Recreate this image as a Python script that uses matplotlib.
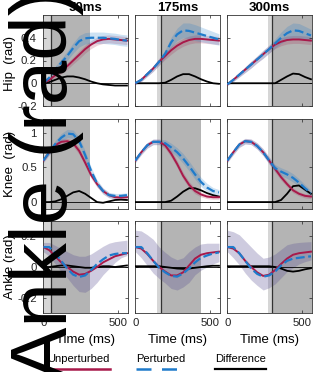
import numpy as np
import matplotlib
matplotlib.use('Agg')
import matplotlib.pyplot as plt
from matplotlib.lines import Line2D

plt.rcParams['font.family'] = ['Liberation Sans', 'DejaVu Sans']
plt.rcParams['axes.unicode_minus'] = False

# ---------------- data ----------------
time_ms = [0, 40, 80, 120, 160, 200, 240, 280, 320, 360, 400, 440, 480, 520, 560]
perturb_ms = [50, 175, 300]
pre_window_start_ms = [0, 145, 270]
post_window_end_ms = [310, 438, 600]
titles = ['50ms', '175ms', '300ms']
joint_labels = ['Hip  (rad)', 'Knee  (rad)', 'Ankle (rad)']
legend_labels = ['Unperturbed', 'Perturbed', 'Difference']

# Hip (one list per perturbation time)
hip_unpert = [
    [0.0, 0.03, 0.07, 0.11, 0.15, 0.2, 0.25, 0.3, 0.34, 0.37, 0.385, 0.39, 0.385, 0.38, 0.375],
    [0.0, 0.03, 0.08, 0.13, 0.19, 0.24, 0.29, 0.33, 0.36, 0.38, 0.39, 0.39, 0.385, 0.38, 0.375],
    [-0.01, 0.03, 0.075, 0.12, 0.165, 0.21, 0.255, 0.3, 0.34, 0.365, 0.38, 0.385, 0.385, 0.38, 0.375],
]
hip_pert = [
    [0.0, 0.05, 0.12, 0.18, 0.24, 0.31, 0.37, 0.395, 0.4, 0.4, 0.4, 0.395, 0.39, 0.38, 0.375],
    [0.0, 0.03, 0.08, 0.13, 0.19, 0.26, 0.36, 0.43, 0.465, 0.46, 0.445, 0.43, 0.415, 0.4, 0.385],
    [-0.01, 0.03, 0.075, 0.12, 0.165, 0.21, 0.255, 0.3, 0.35, 0.4, 0.44, 0.465, 0.46, 0.44, 0.42],
]
hip_diff = [
    [0.0, 0.01, 0.03, 0.05, 0.06, 0.06, 0.05, 0.035, 0.015, 0.0, -0.01, -0.015, -0.02, -0.02, -0.02],
    [0.0, 0.0, 0.0, 0.0, 0.0, 0.005, 0.03, 0.06, 0.08, 0.08, 0.06, 0.035, 0.015, 0.0, -0.005],
    [0.0, 0.0, 0.0, 0.0, 0.0, 0.0, 0.0, 0.0, 0.0, 0.03, 0.06, 0.085, 0.08, 0.055, 0.035],
]
hip_unpert_sd = [0.01, 0.015, 0.02, 0.025, 0.03, 0.03, 0.035, 0.035, 0.035, 0.035, 0.035, 0.035, 0.035, 0.035, 0.035]
hip_pert_sd = [
    [0.01, 0.02, 0.03, 0.035, 0.04, 0.045, 0.05, 0.05, 0.05, 0.05, 0.05, 0.05, 0.05, 0.05, 0.05],
    [0.01, 0.015, 0.02, 0.025, 0.03, 0.035, 0.045, 0.055, 0.065, 0.07, 0.07, 0.065, 0.06, 0.055, 0.05],
    [0.01, 0.015, 0.02, 0.025, 0.03, 0.03, 0.035, 0.035, 0.04, 0.05, 0.06, 0.065, 0.065, 0.06, 0.055],
]

# Knee
knee_unpert = [
    [0.6, 0.72, 0.82, 0.87, 0.88, 0.85, 0.74, 0.57, 0.39, 0.26, 0.16, 0.1, 0.07, 0.065, 0.07],
    [0.6, 0.72, 0.82, 0.87, 0.87, 0.82, 0.7, 0.55, 0.38, 0.25, 0.16, 0.11, 0.08, 0.07, 0.07],
    [0.6, 0.72, 0.83, 0.88, 0.87, 0.81, 0.72, 0.6, 0.48, 0.36, 0.26, 0.17, 0.12, 0.09, 0.08],
]
knee_pert = [
    [0.6, 0.72, 0.84, 0.93, 0.99, 0.98, 0.88, 0.68, 0.45, 0.27, 0.16, 0.1, 0.09, 0.09, 0.1],
    [0.6, 0.72, 0.82, 0.87, 0.87, 0.85, 0.79, 0.72, 0.63, 0.52, 0.4, 0.29, 0.21, 0.16, 0.14],
    [0.6, 0.72, 0.83, 0.88, 0.87, 0.81, 0.72, 0.6, 0.49, 0.44, 0.4, 0.35, 0.28, 0.2, 0.13],
]
knee_diff = [
    [0.0, 0.0, 0.01, 0.04, 0.09, 0.14, 0.16, 0.12, 0.06, 0.0, -0.01, 0.01, 0.03, 0.035, 0.03],
    [0.0, 0.0, 0.0, 0.0, 0.0, 0.0, 0.02, 0.08, 0.15, 0.2, 0.2, 0.17, 0.13, 0.1, 0.08],
    [0.0, 0.0, 0.0, 0.0, 0.0, 0.0, 0.0, 0.0, 0.0, 0.03, 0.12, 0.23, 0.24, 0.18, 0.12],
]
knee_unpert_sd = [0.03, 0.035, 0.04, 0.04, 0.04, 0.045, 0.05, 0.05, 0.05, 0.045, 0.04, 0.035, 0.03, 0.03, 0.03]
knee_pert_sd = [
    [0.03, 0.04, 0.05, 0.06, 0.06, 0.06, 0.06, 0.06, 0.055, 0.05, 0.045, 0.04, 0.035, 0.035, 0.035],
    [0.03, 0.035, 0.04, 0.04, 0.04, 0.05, 0.06, 0.065, 0.07, 0.07, 0.07, 0.065, 0.06, 0.05, 0.04],
    [0.03, 0.035, 0.04, 0.04, 0.04, 0.045, 0.05, 0.05, 0.05, 0.055, 0.06, 0.06, 0.055, 0.05, 0.04],
]

# Ankle
ankle_unpert = [
    [0.13, 0.11, 0.07, 0.03, 0.0, -0.03, -0.05, -0.045, -0.025, 0.0, 0.03, 0.05, 0.07, 0.08, 0.09],
    [0.13, 0.12, 0.085, 0.04, 0.0, -0.03, -0.055, -0.055, -0.035, 0.01, 0.055, 0.08, 0.09, 0.095, 0.1],
    [0.13, 0.12, 0.09, 0.04, 0.0, -0.035, -0.058, -0.05, -0.02, 0.02, 0.055, 0.08, 0.09, 0.095, 0.1],
]
ankle_pert = [
    [0.13, 0.13, 0.09, 0.04, -0.01, -0.05, -0.065, -0.055, -0.02, 0.02, 0.05, 0.075, 0.085, 0.09, 0.09],
    [0.13, 0.13, 0.09, 0.04, -0.005, -0.035, -0.058, -0.063, -0.042, -0.01, 0.03, 0.06, 0.075, 0.088, 0.095],
    [0.13, 0.13, 0.09, 0.04, -0.01, -0.045, -0.063, -0.055, -0.03, 0.01, 0.04, 0.055, 0.06, 0.065, 0.07],
]
ankle_diff = [
    [0.0, 0.0, 0.005, 0.01, 0.01, 0.005, 0.0, -0.005, -0.005, 0.0, 0.005, 0.005, 0.0, 0.005, 0.01],
    [0.005, 0.005, 0.005, 0.005, 0.005, 0.0, -0.005, -0.01, -0.012, -0.01, -0.005, 0.0, 0.005, 0.008, 0.008],
    [0.005, 0.005, 0.005, 0.005, 0.005, 0.005, 0.005, 0.005, 0.0, -0.01, -0.025, -0.03, -0.025, -0.015, -0.008],
]
ankle_band_hi = [
    [0.16, 0.16, 0.14, 0.12, 0.1, 0.08, 0.07, 0.07, 0.085, 0.11, 0.135, 0.155, 0.165, 0.17, 0.175],
    [0.24, 0.235, 0.21, 0.18, 0.13, 0.095, 0.065, 0.047, 0.06, 0.1, 0.13, 0.15, 0.155, 0.155, 0.155],
    [0.24, 0.23, 0.21, 0.17, 0.13, 0.09, 0.057, 0.065, 0.085, 0.115, 0.145, 0.155, 0.16, 0.163, 0.165],
]
ankle_band_lo = [
    [0.1, 0.07, 0.02, -0.03, -0.07, -0.12, -0.16, -0.165, -0.14, -0.1, -0.05, -0.01, 0.03, 0.06, 0.075],
    [0.1, 0.06, 0.01, -0.04, -0.075, -0.105, -0.14, -0.15, -0.13, -0.1, -0.05, -0.02, 0.0, 0.02, 0.035],
    [0.1, 0.06, 0.015, -0.04, -0.085, -0.12, -0.15, -0.135, -0.11, -0.07, -0.03, -0.005, 0.02, 0.035, 0.046],
]

ylims = [(-0.2, 0.6), (-0.1, 1.2), (-0.3, 0.3)]
yticks = [[-0.2, 0, 0.2, 0.4], [0, 0.5, 1], [-0.2, 0, 0.2]]
ytick_labels = [['-0.2', '0', '0.2', '0.4'], ['0', '0.5', '1'], ['-0.2', '0', '0.2']]
xticks = [0, 500]

# ---------------- style ----------------
RED = '#A8194A'
BLUE = '#1F7BCB'
W, H = 316, 372
fig = plt.figure(figsize=(W / 100, H / 100), dpi=100)

col_left = [43.3, 135.3, 227.3]
col_w = 84.4
row_top = [15, 119, 221]
row_bot = [106, 209, 313]

t = np.array(time_ms)
rows = [
    (hip_unpert, hip_pert, hip_diff),
    (knee_unpert, knee_pert, knee_diff),
    (ankle_unpert, ankle_pert, ankle_diff),
]

for r in range(3):
    unp_all, per_all, dif_all = rows[r]
    for c in range(3):
        ax = fig.add_axes([col_left[c] / W, 1 - row_bot[r] / H, col_w / W,
                           (row_bot[r] - row_top[r]) / H])
        tp = perturb_ms[c]
        ax.axvspan(pre_window_start_ms[c], tp, color='#D6D6D6', lw=0, zorder=0)
        ax.axvspan(tp, post_window_end_ms[c], color='#B4B4B4', lw=0, zorder=0)
        unp = np.array(unp_all[c])
        per = np.array(per_all[c])
        dif = np.array(dif_all[c])
        if r == 0:
            ulo, uhi = unp - np.array(hip_unpert_sd), unp + np.array(hip_unpert_sd)
            plo, phi = per - np.array(hip_pert_sd[c]), per + np.array(hip_pert_sd[c])
            a_r, a_b = 0.2, 0.22
        elif r == 1:
            ulo, uhi = unp - np.array(knee_unpert_sd), unp + np.array(knee_unpert_sd)
            plo, phi = per - np.array(knee_pert_sd[c]), per + np.array(knee_pert_sd[c])
            a_r, a_b = 0.2, 0.22
        else:
            ulo, uhi = np.array(ankle_band_lo[c]), np.array(ankle_band_hi[c])
            plo, phi = ulo, uhi
            a_r, a_b = 0.15, 0.17
        ax.fill_between(t, ulo, uhi, color=RED, alpha=a_r, lw=0, zorder=1)
        ax.fill_between(t, plo, phi, color=BLUE, alpha=a_b, lw=0, zorder=1)
        ax.axhline(0, color='black', lw=0.6, zorder=2)
        ax.axvline(tp, color='#333333', lw=0.9, zorder=2)
        ax.plot(t, dif, color='black', lw=1.3, zorder=3)
        ax.plot(t, unp, color=RED, lw=1.4, zorder=4)
        ax.plot(t, per, color=BLUE, lw=1.6, dashes=(4, 1.6), zorder=5)

        ax.set_xlim(0, 565)
        ax.set_ylim(*ylims[r])
        ax.set_xticks(xticks)
        ax.set_yticks(yticks[r])
        ax.tick_params(direction='in', length=2, width=0.5, top=True, right=True,
                       labelsize=8.2, colors='#222222')
        ax.tick_params(axis='x', pad=3.6)
        ax.tick_params(axis='y', pad=4.7)
        for s in ax.spines.values():
            s.set_linewidth(0.6)
            s.set_color('#333333')
        if c == 0:
            ax.set_yticklabels(ytick_labels[r])
            ax.set_ylabel(joint_labels[r], fontsize=9.5)
            ax.yaxis.set_label_coords((16.5 - col_left[0]) / col_w, 0.47 if r == 0 else 0.5)
        else:
            ax.set_yticklabels([])
        if r == 2:
            ax.set_xticklabels(['0', '500'])
            ax.set_xlabel('Time (ms)', fontsize=9.5)
            ax.xaxis.set_label_coords(0.5, -(340 - 313) / 92)
            ax.xaxis.label.set_va('center')
        else:
            ax.set_xticklabels([])
        if r == 0:
            ax.set_title(titles[c], fontsize=9.5, fontweight='bold', pad=3)

# ---------------- legend ----------------
leg_x = [47, 136, 215]
leg_len = [63, 49, 51]
leg_styles = [dict(color=RED, lw=1.8), dict(color=BLUE, lw=1.8, dashes=(6, 4.2)),
              dict(color='black', lw=1.6)]
for lab, x0, ln, st in zip(legend_labels, leg_x, leg_len, leg_styles):
    fig.text(x0 / W, 1 - 359 / H, lab, fontsize=8, ha='left', va='center')
    fig.add_artist(Line2D([x0 / W, (x0 + ln) / W], [1 - 369 / H, 1 - 369 / H],
                          transform=fig.transFigure, **st))

# giant overlaid label
fig.text(46.4 / W, 0.504, 'Ankle (rad)', rotation=90, ha='center', va='center',
         fontsize=57.6, color='black', zorder=10)

fig.savefig('out.png', dpi=100)
